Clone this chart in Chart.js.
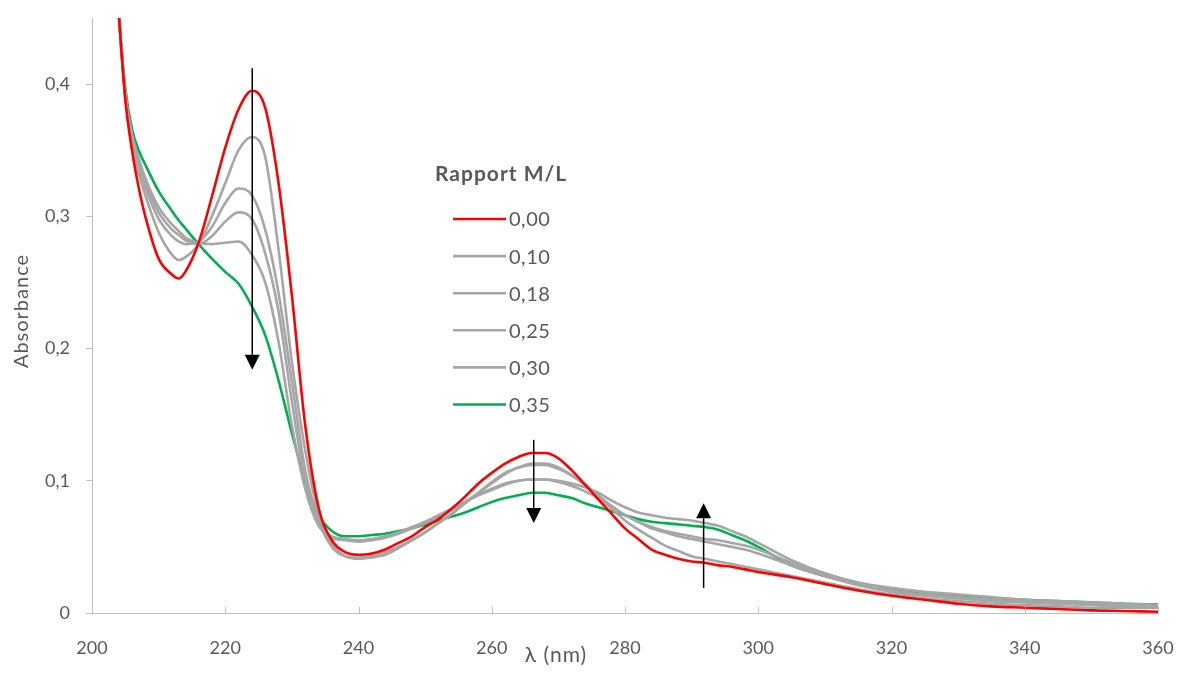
<!DOCTYPE html>
<html>
<head>
<meta charset="utf-8">
<script src="https://cdn.jsdelivr.net/npm/chart.js@4"></script>
<style>
  html, body { margin: 0; padding: 0; background: #fff; }
  #wrap { width: 1179px; height: 673px; }
</style>
</head>
<body>
<div id="wrap"><canvas id="spectraChart" width="1179" height="673"></canvas></div>
<script>
// UV-vis titration spectra, absorbance vs wavelength

const wavelengths = [
  200, 202, 204, 205, 206, 207, 208, 210, 212, 213, 214, 216, 218,
  220, 222, 224, 226, 228, 230, 232, 234, 236, 238,
  240, 242, 244, 246, 248, 250, 252, 254, 256, 258,
  260, 262, 264, 266, 268, 270, 272, 274, 276, 278,
  280, 282, 284, 286, 288, 290, 292, 294, 296, 298,
  300, 305, 310, 315, 320, 325, 330, 335, 340, 345, 350, 355, 360
];

const abs000 = [
  0.85, 0.62, 0.455, 0.388, 0.350, 0.322, 0.300, 0.268, 0.256, 0.253, 0.258, 0.280, 0.315,
  0.352, 0.381, 0.395, 0.382, 0.325, 0.240, 0.142, 0.080, 0.055, 0.046,
  0.044, 0.045, 0.048, 0.053, 0.058, 0.065, 0.071, 0.079, 0.088, 0.098,
  0.106, 0.113, 0.118, 0.121, 0.121, 0.117, 0.108, 0.097, 0.086, 0.075,
  0.064, 0.056, 0.048, 0.044, 0.041, 0.039, 0.038, 0.036, 0.035, 0.033,
  0.031, 0.027, 0.022, 0.017, 0.013, 0.010, 0.007, 0.005, 0.004, 0.003, 0.002, 0.0015, 0.001
];

const abs010 = [
  0.85, 0.62, 0.455, 0.390, 0.355, 0.333, 0.316, 0.288, 0.271, 0.267, 0.269, 0.279, 0.300,
  0.325, 0.350, 0.360, 0.345, 0.275, 0.190, 0.123, 0.075, 0.052, 0.043,
  0.041, 0.042, 0.044, 0.049, 0.055, 0.061, 0.068, 0.075, 0.083, 0.091,
  0.099, 0.106, 0.110, 0.113, 0.113, 0.110, 0.104, 0.097, 0.088, 0.079,
  0.070, 0.063, 0.057, 0.051, 0.047, 0.043, 0.041, 0.039, 0.037, 0.035,
  0.033, 0.028, 0.023, 0.018, 0.014, 0.011, 0.009, 0.007, 0.006, 0.005, 0.004, 0.004, 0.004
];

const abs018 = [
  0.85, 0.62, 0.455, 0.391, 0.358, 0.338, 0.322, 0.298, 0.285, 0.281, 0.279, 0.281, 0.292,
  0.310, 0.321, 0.316, 0.290, 0.242, 0.175, 0.108, 0.070, 0.050, 0.043,
  0.042, 0.043, 0.046, 0.050, 0.055, 0.061, 0.068, 0.075, 0.083, 0.091,
  0.098, 0.105, 0.110, 0.112, 0.112, 0.109, 0.104, 0.097, 0.089, 0.081,
  0.074, 0.069, 0.064, 0.061, 0.058, 0.056, 0.054, 0.052, 0.050, 0.048,
  0.045, 0.036, 0.028, 0.021, 0.016, 0.013, 0.011, 0.009, 0.008, 0.007, 0.006, 0.005, 0.005
];

const abs025 = [
  0.85, 0.62, 0.455, 0.392, 0.360, 0.341, 0.326, 0.303, 0.290, 0.286, 0.282, 0.279, 0.285,
  0.296, 0.303, 0.298, 0.272, 0.228, 0.160, 0.100, 0.068, 0.057, 0.055,
  0.054, 0.055, 0.057, 0.060, 0.064, 0.068, 0.073, 0.078, 0.084, 0.090,
  0.094, 0.098, 0.100, 0.101, 0.101, 0.099, 0.096, 0.092, 0.087, 0.080,
  0.074, 0.069, 0.065, 0.062, 0.060, 0.058, 0.056, 0.055, 0.053, 0.051,
  0.048, 0.038, 0.029, 0.022, 0.017, 0.014, 0.012, 0.010, 0.009, 0.008, 0.007, 0.006, 0.006
];

const abs030 = [
  0.85, 0.62, 0.455, 0.393, 0.362, 0.344, 0.329, 0.307, 0.294, 0.289, 0.284, 0.280, 0.279,
  0.280, 0.281, 0.271, 0.250, 0.205, 0.142, 0.094, 0.066, 0.058, 0.056,
  0.055, 0.056, 0.058, 0.061, 0.065, 0.069, 0.074, 0.079, 0.084, 0.089,
  0.093, 0.097, 0.100, 0.101, 0.101, 0.100, 0.098, 0.095, 0.091, 0.085,
  0.080, 0.076, 0.074, 0.072, 0.071, 0.070, 0.068, 0.066, 0.062, 0.058,
  0.053, 0.040, 0.030, 0.023, 0.019, 0.016, 0.014, 0.012, 0.010, 0.009, 0.008, 0.007, 0.006
];

const abs035 = [
  0.85, 0.62, 0.455, 0.397, 0.366, 0.350, 0.339, 0.319, 0.304, 0.297, 0.291, 0.279, 0.268,
  0.258, 0.249, 0.232, 0.210, 0.176, 0.136, 0.100, 0.074, 0.062, 0.058,
  0.058, 0.059, 0.060, 0.062, 0.064, 0.067, 0.070, 0.073, 0.076, 0.080,
  0.084, 0.087, 0.089, 0.091, 0.091, 0.089, 0.087, 0.083, 0.080, 0.077,
  0.074, 0.071, 0.069, 0.068, 0.067, 0.066, 0.065, 0.063, 0.059, 0.055,
  0.050, 0.036, 0.028, 0.022, 0.018, 0.015, 0.013, 0.011, 0.010, 0.009, 0.008, 0.007, 0.0065
];

const ratioLabels = ['0,00', '0,10', '0,18', '0,25', '0,30', '0,35'];
const seriesColors = ['#FF0000', '#A6A6A6', '#A6A6A6', '#A6A6A6', '#A6A6A6', '#00B050'];
const allSeries = [abs000, abs010, abs018, abs025, abs030, abs035];

// arrows showing the trend, in data units
const arrows = [
  { x: 224.05, from: 0.412, to: 0.184 },
  { x: 266.3, from: 0.131, to: 0.068 },
  { x: 291.8, from: 0.019, to: 0.083 }
];

const legendTitle = 'Rapport M/L';
const xTitle = 'λ (nm)';
const yTitle = 'Absorbance';

const FONT = "Lato, 'Open Sans', sans-serif";
const TEXT_COLOR = '#595959';
const AXIS_COLOR = '#BFBFBF';

const datasets = allSeries.map((vals, i) => ({
  label: ratioLabels[i],
  data: wavelengths.map((w, j) => ({ x: w, y: vals[j] })),
  borderColor: seriesColors[i],
  backgroundColor: seriesColors[i],
  borderWidth: 2.6,
  pointRadius: 0,
  cubicInterpolationMode: 'monotone',
  fill: false
}));

const overlayPlugin = {
  id: 'overlay',
  afterDraw(chart) {
    const { ctx, chartArea, scales } = chart;
    const xs = scales.x;
    const ys = scales.y;
    ctx.save();

    // inward tick marks on the x axis
    ctx.strokeStyle = AXIS_COLOR;
    ctx.lineWidth = 1;
    xs.ticks.forEach(t => {
      const px = Math.round(xs.getPixelForValue(t.value)) + 0.5;
      ctx.beginPath();
      ctx.moveTo(px, chartArea.bottom);
      ctx.lineTo(px, chartArea.bottom - 6);
      ctx.stroke();
    });

    // arrows
    ctx.strokeStyle = '#000';
    ctx.fillStyle = '#000';
    arrows.forEach(a => {
      const px = xs.getPixelForValue(a.x);
      const y0 = ys.getPixelForValue(a.from);
      const y1 = ys.getPixelForValue(a.to);
      const dir = y1 > y0 ? 1 : -1;
      const headLen = 15;
      ctx.lineWidth = 1.5;
      ctx.beginPath();
      ctx.moveTo(px, y0);
      ctx.lineTo(px, y1 - dir * headLen);
      ctx.stroke();
      ctx.beginPath();
      ctx.moveTo(px, y1);
      ctx.lineTo(px - 7.5, y1 - dir * headLen);
      ctx.lineTo(px + 7.5, y1 - dir * headLen);
      ctx.closePath();
      ctx.fill();
    });

    // axis titles
    ctx.fillStyle = TEXT_COLOR;
    ctx.letterSpacing = '1px';
    ctx.font = `21px ${FONT}`;
    ctx.textAlign = 'center';
    ctx.textBaseline = 'middle';
    ctx.fillText(xTitle, 556, 655);
    ctx.font = `20px ${FONT}`;
    ctx.save();
    ctx.translate(22, 311);
    ctx.rotate(-Math.PI / 2);
    ctx.fillText(yTitle, 0, 0);
    ctx.restore();

    // legend
    const lx = 435;
    ctx.textAlign = 'left';
    ctx.font = `bold 21px ${FONT}`;
    ctx.fillText(legendTitle, lx, 174);
    ctx.letterSpacing = '0.5px';
    ctx.font = `20px ${FONT}`;
    ratioLabels.forEach((lab, i) => {
      const ly = 219 + i * 37.1;
      ctx.strokeStyle = seriesColors[i];
      ctx.lineWidth = 2.6;
      ctx.beginPath();
      ctx.moveTo(453, ly);
      ctx.lineTo(506, ly);
      ctx.stroke();
      ctx.fillStyle = TEXT_COLOR;
      ctx.fillText(lab, 509, ly + 1);
    });

    ctx.restore();
  }
};

new Chart(document.getElementById('spectraChart'), {
  type: 'line',
  data: { datasets: datasets },
  options: {
    responsive: false,
    devicePixelRatio: 1,
    animation: false,
    layout: { padding: { top: 18, right: 21, left: 0, bottom: 0 } },
    plugins: {
      legend: { display: false },
      tooltip: { enabled: false }
    },
    scales: {
      x: {
        type: 'linear',
        min: 200,
        max: 360,
        afterFit: scale => {
          scale.height = 60;
          scale.paddingLeft = 0;
          scale.paddingRight = 0;
        },
        ticks: {
          stepSize: 20,
          padding: 24,
          color: TEXT_COLOR,
          font: { family: FONT, size: 18 },
          maxRotation: 0
        },
        grid: { drawOnChartArea: false, drawTicks: false },
        border: { color: AXIS_COLOR, width: 1 }
      },
      y: {
        type: 'linear',
        min: 0,
        max: 0.45,
        afterFit: scale => {
          scale.width = 92;
          scale.paddingTop = 0;
          scale.paddingBottom = 0;
        },
        ticks: {
          stepSize: 0.1,
          includeBounds: false,
          padding: 16,
          color: TEXT_COLOR,
          font: { family: FONT, size: 18 },
          callback: v => v === 0 ? '0' : v.toFixed(1).replace('.', ',')
        },
        grid: { drawOnChartArea: false, drawTicks: true, tickLength: 6, color: AXIS_COLOR },
        border: { color: AXIS_COLOR, width: 1 }
      }
    }
  },
  plugins: [overlayPlugin]
});
</script>
</body>
</html>
